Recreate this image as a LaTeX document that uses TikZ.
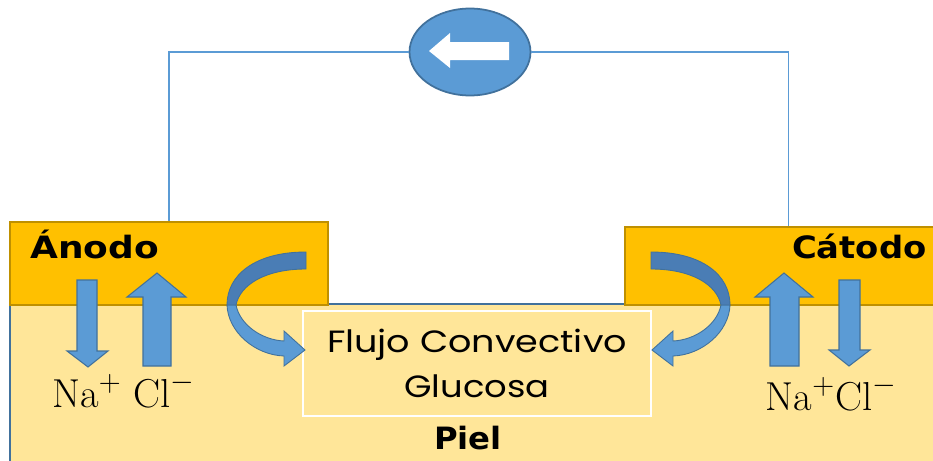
\documentclass[tikz,border=0pt]{standalone}
\usepackage{fontspec}
\usepackage{amsmath}
\usepackage{tikz}
\usetikzlibrary{arrows.meta, positioning, shapes.geometric, calc}

\newfontfamily\labelfont{DejaVu Sans}
\newfontfamily\flowfont{Poppins}

\definecolor{anodegold}{HTML}{FFC000}
\definecolor{goldedge}{HTML}{BF9000}
\definecolor{skinyellow}{HTML}{FFE699}
\definecolor{flowblue}{HTML}{5B9BD5}
\definecolor{flowedge}{HTML}{41719C}
\definecolor{flowdark}{HTML}{4A7DB5}

% wide lettering
\newcommand{\widetext}[2]{\scalebox{#1}[1]{#2}}

% curved flow arrow, drawn for the anode side
\newcommand{\flowarrow}{%
  \fill[flowblue, draw=flowedge, line width=0.5pt]
    (227,305) .. controls (228,332) and (255,355) .. (284,356) -- (284,366)
    -- (305,350) -- (284,331) -- (284,341)
    .. controls (262,340) and (240,325) .. (236,305) -- cycle;
  \fill[flowdark, draw=flowedge, line width=0.5pt]
    (306,252) .. controls (255,252) and (227,275) .. (227,305) -- (236,305)
    .. controls (240,285) and (265,269) .. (306,269) -- cycle;
}

\begin{document}
\begin{tikzpicture}[
  x=0.02cm, y=-0.02cm,
  electrode/.style={draw=goldedge, fill=anodegold, line width=1.2pt, inner sep=0pt},
  skin/.style={draw=flowedge, fill=skinyellow, line width=1.2pt, inner sep=0pt},
  flowbox/.style={draw=white, fill=skinyellow, line width=1.4pt, align=center,
    font=\flowfont\fontsize{17.5}{25.5}\selectfont, minimum width=6.96cm, minimum height=2.1cm},
  wire/.style={draw=flowblue, line width=0.7pt},
  ion/.style={fill=flowblue, draw=flowedge, line width=0.6pt},
  title/.style={font=\labelfont\bfseries\fontsize{17.5}{20}\selectfont, inner sep=0pt},
  salt/.style={font=\fontsize{23}{26}\selectfont, inner sep=0pt}
]
  \useasboundingbox (0,0) rectangle (933,460);

  % skin and electrodes
  \node[skin, minimum width=18.7cm, minimum height=3.32cm] (skin) at (477.5,387) {};
  \node[electrode, minimum width=6.36cm, minimum height=1.66cm] (anode) at (169,263.5) {};
  \node[electrode, minimum width=6.3cm, minimum height=1.56cm] (cathode) at (782.5,266) {};

  % external circuit with the meter
  \node[ellipse, fill=flowblue, draw=flowedge, line width=1pt, inner sep=0pt,
    minimum width=2.42cm, minimum height=1.74cm] (amp) at (470,52) {};
  \fill[white] (429,51) -- (450,33) -- (450,42) -- (509,42) -- (509,60)
    -- (450,60) -- (450,68) -- cycle;
  \draw[wire] (anode.north) |- (amp.west);
  \draw[wire] ([xshift=0.12cm]cathode.north) |- (amp.east);

  \node[flowbox] (flow) at (477,363.5)
    {\widetext{1.19}{Flujo Convectivo}\\\widetext{1.15}{Glucosa}};

  % ion arrows, anode side
  \fill[ion] (77,280) -- (97,280) -- (97,351) -- (108,351) -- (88,367)
    -- (67,351) -- (77,351) -- cycle;
  \fill[ion] (143,366) -- (171,366) -- (171,297) -- (186,297) -- (157,273)
    -- (127,297) -- (143,297) -- cycle;
  % ion arrows, cathode side
  \fill[ion] (770,366) -- (799,366) -- (799,297) -- (813,297) -- (784,273)
    -- (755,297) -- (770,297) -- cycle;
  \fill[ion] (839,280) -- (860,280) -- (860,350) -- (870,350) -- (849,366)
    -- (829,350) -- (839,350) -- cycle;

  % convective flow into the skin
  \flowarrow
  \begin{scope}[shift={(957,0)}, xscale=-1]
    \flowarrow
  \end{scope}

  \node[title, anchor=base west] (anodetext) at (30,258) {\widetext{1.17}{Ánodo}};
  \node[title, anchor=base east] (cathodetext) at (927,258) {\widetext{1.1}{Cátodo}};
  \node[title, anchor=base] (skintext) at (468,449) {\widetext{1.05}{Piel}};
  \node[salt, anchor=base west] (saltleft) at (52,407) {$\mathrm{Na}^{+}\;\mathrm{Cl}^{-}$};
  \node[salt, anchor=base east] (saltright) at (897,410) {$\mathrm{Na}^{+}\mathrm{Cl}^{-}$};
\end{tikzpicture}
\end{document}
